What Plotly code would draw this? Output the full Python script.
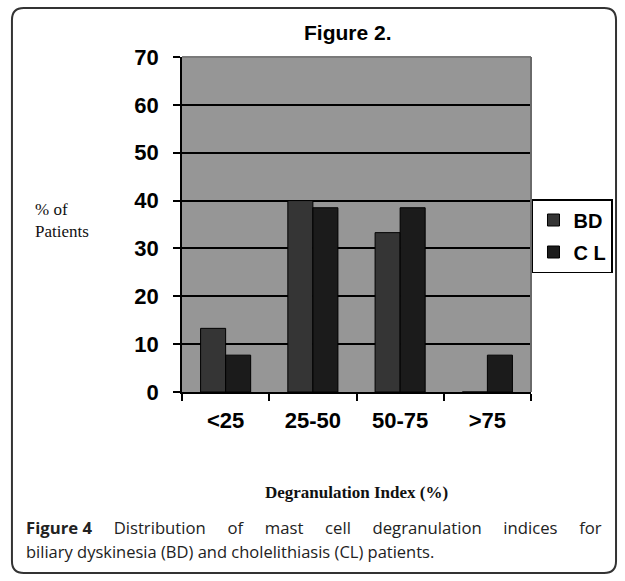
import plotly.graph_objects as go

categories = ["<25", "25-50", "50-75", ">75"]
bd_values = [13.3, 40.0, 33.3, 0.0]
cl_values = [7.7, 38.5, 38.5, 7.7]
series_names = ["BD", "C L"]
y_ticks = [0, 10, 20, 30, 40, 50, 60, 70]

W, H = 625, 581
PL, PR, PT, PB = 182, 535, 57, 392  # plot area in window pixels
ML, MR, MT, MB = PL, W - PR, PT, H - PB
PW = PR - PL
PH = PB - PT


def px(x):
    return (x - PL) / PW


def py(y):
    return (PB - y) / PH


fig = go.Figure()
fig.add_trace(go.Bar(x=categories, y=bd_values, name=series_names[0],
                     marker=dict(color="#353535", line=dict(color="#000000", width=1)),
                     legendgroup="a"))
fig.add_trace(go.Bar(x=categories, y=cl_values, name=series_names[1],
                     marker=dict(color="#1b1b1b", line=dict(color="#000000", width=1)),
                     legendgroup="b"))

# rounded frame
x0, x1, y0, y1, r = 10, 621, 8, 573, 12
rx, ry = r / PW, r / PH
X0, X1, Y0, Y1 = px(x0), px(x1), py(y0), py(y1)
path = (f"M{X0+rx},{Y0} L{X1-rx},{Y0} Q{X1},{Y0} {X1},{Y0-ry} "
        f"L{X1},{Y1+ry} Q{X1},{Y1} {X1-rx},{Y1} "
        f"L{X0+rx},{Y1} Q{X0},{Y1} {X0},{Y1+ry} "
        f"L{X0},{Y0-ry} Q{X0},{Y0} {X0+rx},{Y0} Z")

shapes = [
    dict(type="path", path=path, xref="paper", yref="paper",
         line=dict(color="#333333", width=2), layer="below"),
    dict(type="line", xref="paper", yref="paper", x0=0, x1=1, y0=1, y1=1,
         line=dict(color="#7a7a7a", width=2), layer="above"),
    dict(type="line", xref="paper", yref="paper", x0=1, x1=1, y0=0, y1=1,
         line=dict(color="#6a6a6a", width=2), layer="above"),
]

gap = "     "
line1 = gap.join(["<b>Figure 4</b>", "Distribution", "of", "mast", "cell",
                  "degranulation", "indices", "for"])
line2 = "biliary dyskinesia (BD) and cholelithiasis (CL) patients."

annotations = [
    dict(text="<b>Figure 2.</b>", xref="paper", yref="paper", x=px(350), y=py(33),
         xanchor="center", yanchor="middle", showarrow=False,
         font=dict(family="Liberation Sans", size=21, color="#000000")),
    dict(text="% of<br>Patients", xref="paper", yref="paper", x=px(31), y=py(221),
         xanchor="left", yanchor="middle", align="left", showarrow=False,
         font=dict(family="Liberation Serif", size=17, color="#111111")),
    dict(text=line1, xref="paper", yref="paper", x=px(22), y=py(527),
         xanchor="left", yanchor="middle", align="left", showarrow=False,
         font=dict(family="Open Sans", size=16.7, color="#222222")),
    dict(text=line2, xref="paper", yref="paper", x=px(22), y=py(551),
         xanchor="left", yanchor="middle", align="left", showarrow=False,
         font=dict(family="Open Sans", size=16.5, color="#222222")),
]

fig.update_layout(
    width=W, height=H,
    margin=dict(l=ML, r=MR, t=MT, b=MB, pad=0),
    paper_bgcolor="#ffffff",
    plot_bgcolor="#969696",
    barmode="group",
    bargap=0.426,
    bargroupgap=0,
    showlegend=True,
    legend=dict(x=px(536), y=py(199), xanchor="left", yanchor="top",
                bgcolor="#ffffff", bordercolor="#000000", borderwidth=1.5,
                font=dict(family="Liberation Sans", size=20, color="#000000", weight="bold"),
                tracegroupgap=3, traceorder="grouped"),
    shapes=shapes,
    annotations=annotations,
    xaxis=dict(type="category", tickson="boundaries", ticks="outside", ticklen=7,
               tickcolor="#000000", tickwidth=1.5, showline=True, linecolor="#000000",
               linewidth=1.5, showgrid=False, automargin=False,
               ticklabelstandoff=8,
               tickfont=dict(family="Liberation Sans", size=22, color="#000000", weight="bold"),
               title=dict(text="<b>Degranulation Index (%)</b>", standoff=54,
                          font=dict(family="Liberation Serif", size=17, color="#111111"))),
    yaxis=dict(range=[0, 70], tickvals=y_ticks, ticks="outside", ticklen=7,
               tickcolor="#000000", tickwidth=1.5, showline=True, linecolor="#000000",
               linewidth=1.5, showgrid=True, gridcolor="#000000", gridwidth=1.5,
               zeroline=False, automargin=False, ticklabelstandoff=10,
               tickfont=dict(family="Liberation Sans", size=22, color="#000000", weight="bold")),
)

fig.write_html("out.html",
               config={"displayModeBar": False},
               post_script="document.body.style.margin='0';document.body.style.overflow='hidden';")
